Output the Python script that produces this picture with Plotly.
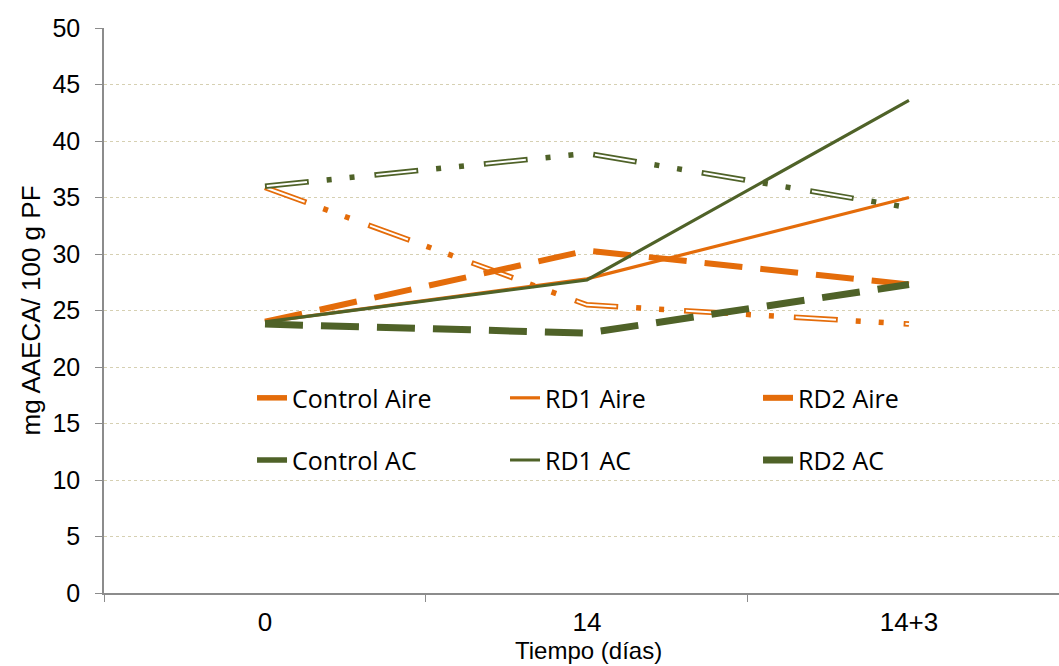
import plotly.graph_objects as go

categories = ["0", "14", "14+3"]
control_aire = [35.9, 25.5, 23.8]
rd1_aire = [24.0, 27.8, 35.0]
rd2_aire = [24.0, 30.3, 27.3]
control_ac = [36.0, 38.9, 34.1]
rd1_ac = [24.0, 27.7, 43.6]
rd2_ac = [23.8, 23.0, 27.3]

ORANGE = "#E46C0A"
GREEN = "#4F6228"
LEGEND_FONT = dict(family="Open Sans, Lato, Liberation Sans", size=25, color="#000000")
AXIS_FONT = "Liberation Sans, Arial, sans-serif"

CTRL_DASH = "44px,18px,5px,18px,5px,20px"
CTRL_INNER = "0px,1.8px,40.4px,67.8px"
RD2_DASH = "38px,18px"

fig = go.Figure()

def add_control(y, color, name, legend):
    fig.add_trace(go.Scatter(x=categories, y=y, mode="lines", name=name,
                             line=dict(color=color, width=5.5, dash=CTRL_DASH),
                             legend=legend, hoverinfo="skip"))
    fig.add_trace(go.Scatter(x=categories, y=y, mode="lines", showlegend=False,
                             line=dict(color="white", width=2, dash=CTRL_INNER),
                             hoverinfo="skip"))

add_control(control_aire, ORANGE, "Control Aire", "legend")
fig.add_trace(go.Scatter(x=categories, y=rd1_aire, mode="lines", name="RD1 Aire",
                         line=dict(color=ORANGE, width=3.2), legend="legend"))
fig.add_trace(go.Scatter(x=categories, y=rd2_aire, mode="lines", name="RD2 Aire",
                         line=dict(color=ORANGE, width=6, dash=RD2_DASH), legend="legend"))
add_control(control_ac, GREEN, "Control AC", "legend2")
fig.add_trace(go.Scatter(x=categories, y=rd1_ac, mode="lines", name="RD1 AC",
                         line=dict(color=GREEN, width=3.2), legend="legend2"))
fig.add_trace(go.Scatter(x=categories, y=rd2_ac, mode="lines", name="RD2 AC",
                         line=dict(color=GREEN, width=7, dash=RD2_DASH), legend="legend2"))

leg_common = dict(orientation="h", xanchor="left", yanchor="middle",
                  bgcolor="rgba(0,0,0,0)", font=LEGEND_FONT,
                  entrywidth=208, entrywidthmode="pixels", itemclick=False)

fig.update_layout(
    width=1059, height=666,
    margin=dict(l=104, r=0, t=28, b=73),
    paper_bgcolor="white", plot_bgcolor="white",
    showlegend=True,
    legend=dict(x=0.155, y=0.345, **leg_common),
    legend2=dict(x=0.155, y=0.235, **leg_common),
    xaxis=dict(type="category", categoryorder="array", categoryarray=categories,
               range=[-0.5, 2.466], tickson="boundaries", ticks="outside", ticklen=7,
               tickcolor="#8c8c8c", showline=True, linecolor="#8c8c8c", linewidth=1.5,
               showgrid=False, zeroline=False, ticklabelstandoff=5,
               tickfont=dict(family=AXIS_FONT, size=26, color="#000000")),
    yaxis=dict(range=[0, 50], dtick=5, ticks="outside", ticklen=7,
               tickcolor="#8c8c8c", showline=True, linecolor="#8c8c8c", linewidth=1.5,
               showgrid=True, gridcolor="#d6d0b2", griddash="dot", gridwidth=1,
               zeroline=False, ticklabelstandoff=10,
               tickfont=dict(family=AXIS_FONT, size=25, color="#000000"),
               title=dict(text="mg AAECA/ 100 g PF", standoff=4,
                          font=dict(family=AXIS_FONT, size=26, color="#000000"))),
    annotations=[dict(text="Tiempo (días)", x=0.507, xref="paper", y=-0.1025, yref="paper",
                      xanchor="center", yanchor="middle", showarrow=False,
                      font=dict(family=AXIS_FONT, size=24, color="#000000"))],
)

fig.write_html("out.html")
